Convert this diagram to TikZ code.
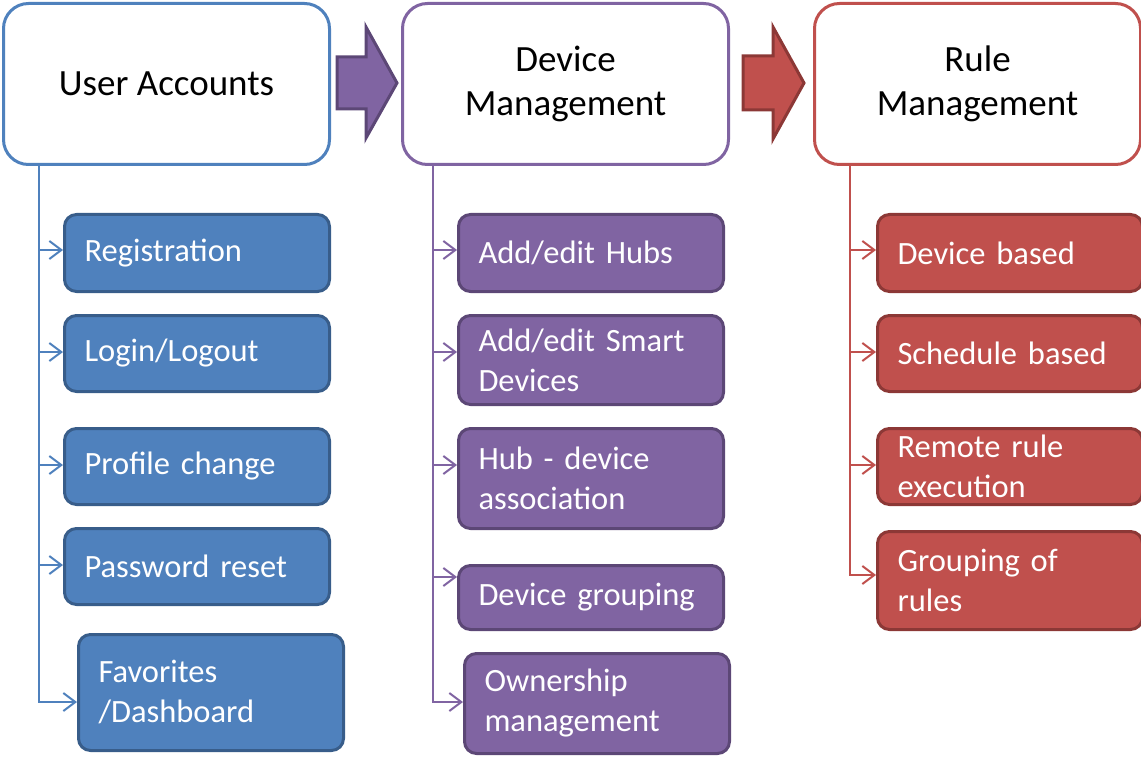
\documentclass[tikz,border=0pt]{standalone}
\usepackage{fontspec}
\setmainfont{Carlito}
\usetikzlibrary{arrows.meta}
\definecolor{uablue}{HTML}{4F81BD}
\definecolor{uabluedark}{HTML}{385D8A}
\definecolor{dmpurple}{HTML}{8064A2}
\definecolor{dmpurpledark}{HTML}{5C4776}
\definecolor{rmred}{HTML}{C0504D}
\definecolor{rmreddark}{HTML}{8C3836}

\begin{document}
\begin{tikzpicture}[x=1pt,y=-1pt,
  header/.style={draw=#1,line width=3pt,fill=white,rounded corners=25pt,minimum width=326pt,minimum height=161pt,anchor=north west,align=center,inner sep=0pt,font=\fontsize{37}{44}\selectfont},
  item/.style={line width=3pt,rounded corners=12pt,text=white,anchor=north west,align=left,text width=225pt,inner xsep=20pt,inner ysep=0pt,font=\fontsize{32.5}{40}\selectfont},
  uaitem/.style={item,fill=uablue,draw=uabluedark},
  dmitem/.style={item,fill=dmpurple,draw=dmpurpledark},
  rmitem/.style={item,fill=rmred,draw=rmreddark},
  link/.style={draw=#1,line width=2pt,-{Straight Barb[length=12pt,width=18pt,line width=2pt]}},
  blockarrow/.style={line width=3pt,line join=miter}]
\useasboundingbox (0,0) rectangle (1141,762);
% headers
\node[header=uablue] (ua) at (2,2) {User Accounts};
\node[header=dmpurple] (dm) at (401,2) {Device\\Management};
\node[header=rmred] (rm) at (813,2) {Rule\\Management};
% block arrows between the headers
\filldraw[blockarrow,fill=dmpurple,draw=dmpurpledark] (337,57) -- (366,57) -- (366,27) -- (397,83) -- (366,138) -- (366,109) -- (337,109) -- cycle;
\filldraw[blockarrow,fill=rmred,draw=rmreddark] (743,56) -- (773,56) -- (773,27) -- (804,83) -- (773,139) -- (773,110) -- (743,110) -- cycle;
% user accounts
\node[uaitem,minimum height=77pt] (reg) at (63,213) {Registration};
\node[uaitem,minimum height=76pt] (login) at (63,314) {Login/Logout};
\node[uaitem,minimum height=76pt] (prof) at (63,427) {Profile change};
\node[uaitem,minimum height=76pt] (pwd) at (63,527) {Password reset};
\node[uaitem,minimum height=116pt] (fav) at (77,633) {Favorites\\/Dashboard};
% device management
\node[dmitem,minimum height=77pt] (hubs) at (457,213) {Add/edit Hubs};
\node[dmitem,minimum height=89pt] (smart) at (457,314) {Add/edit Smart\\Devices};
\node[dmitem,minimum height=100pt] (assoc) at (457,427) {Hub - device\\association};
\node[dmitem,minimum height=64pt] (devgrp) at (457,564) {Device grouping};
\node[dmitem,minimum height=100pt] (own) at (463,652) {Ownership\\management};
% rule management
\node[rmitem,minimum height=77pt] (devb) at (876,213) {Device based};
\node[rmitem,minimum height=76pt] (sched) at (876,314) {Schedule based};
\node[rmitem,minimum height=76pt] (remote) at (876,427) {Remote rule\\execution};
\node[rmitem,minimum height=98pt] (rulegrp) at (876,530) {Grouping of\\rules};
% trunks
\coordinate (ua-trunk) at (ua.south -| 39,0);
\coordinate (dm-trunk) at (dm.south -| 433,0);
\coordinate (rm-trunk) at (rm.south -| 850,0);
\foreach \b/\y in {reg/250,login/352,prof/465,pwd/565,fav/702}
  \draw[link=uablue] (ua-trunk) |- (\b.west |- 0,\y);
\foreach \b/\y in {hubs/250,smart/352,assoc/465,devgrp/577,own/702}
  \draw[link=dmpurple] (dm-trunk) |- (\b.west |- 0,\y);
\foreach \b/\y in {devb/250,sched/352,remote/465,rulegrp/575}
  \draw[link=rmred] (rm-trunk) |- (\b.west |- 0,\y);
\end{tikzpicture}
\end{document}
